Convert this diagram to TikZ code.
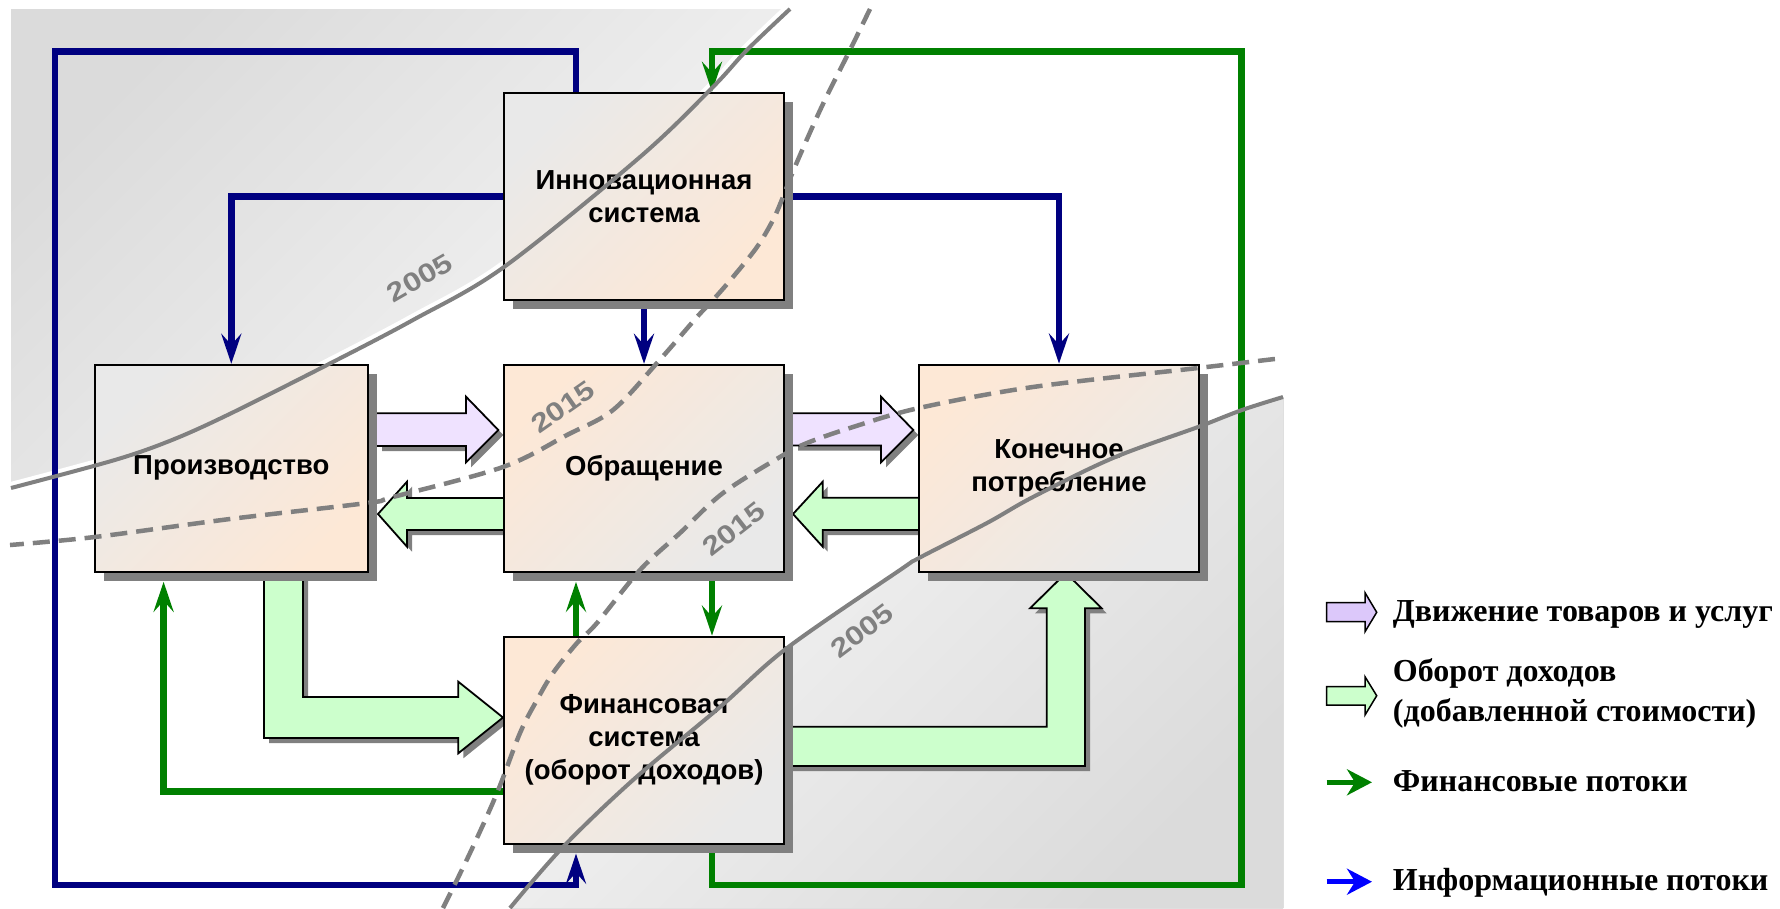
\documentclass[tikz,border=0pt]{standalone}
\usepackage{fontspec}
\setmainfont{Liberation Sans}
\newfontfamily\boxfont{Liberation Sans}
\newfontfamily\legfont{Liberation Serif}
\usetikzlibrary{arrows.meta,shadows}
\definecolor{navyc}{HTML}{000080}
\definecolor{greenc}{HTML}{008000}
\definecolor{shadowc}{HTML}{808080}
\definecolor{curvec}{HTML}{808080}
\definecolor{boxpeach}{HTML}{FDE8D6}
\definecolor{boxgray}{HTML}{E9E9E9}
\definecolor{fatpurple}{HTML}{EFE2FF}
\definecolor{fatgreen}{HTML}{CCFFCC}
\definecolor{legpurple}{HTML}{DCC8FA}
\definecolor{bgdark}{HTML}{DBDBDB}
\definecolor{bglight}{HTML}{F7F7F7}
\definecolor{infoblue}{HTML}{0000FF}
\pgfdeclarelayer{bg}
\pgfdeclarelayer{conn}
\pgfdeclarelayer{over}
\pgfsetlayers{bg,conn,main,over}
\tikzset{
  tipa/.style={-{Stealth[length=30pt,width=20pt,inset=11pt]}},
  infoflow/.style={draw=navyc, line width=6.5pt, tipa},
  finflow/.style={draw=greenc, line width=6.5pt, tipa},
  boxbase/.style={draw=black, line width=2pt, inner sep=0pt, align=center,
    minimum width=280pt, minimum height=207pt,
    font=\boxfont\bfseries\fontsize{27.5}{33}\selectfont,
    drop shadow={shadow xshift=9pt, shadow yshift=-9pt, fill=shadowc, opacity=1}},
  boxA/.style={boxbase, top color=boxgray, bottom color=boxpeach, shading angle=45},
  boxB/.style={boxbase, top color=boxpeach, bottom color=boxgray, shading angle=45},
  fatshadow/.style={drop shadow={shadow xshift=5pt, shadow yshift=-5pt, fill=shadowc, opacity=1}},
  fatline/.style={draw=black, line width=1.8pt, line join=miter},
  solidcurve/.style={draw=curvec, line width=4pt},
  dashcurve/.style={draw=curvec, line width=4.5pt, dash pattern=on 17pt off 9pt},
  yearlab/.style={text=curvec, inner sep=0pt, font=\boxfont\bfseries\fontsize{26.5}{26.5}\selectfont},
  legtext/.style={anchor=base west, inner sep=0pt, align=left,
    font=\legfont\bfseries\fontsize{32}{40}\selectfont},
  legarrow/.style={draw=black, line width=1.5pt, line join=miter},
}
\begin{document}
\begin{tikzpicture}[x=1pt,y=-1pt]
\useasboundingbox (0,0) rectangle (1780,908);

% ---------- background regions ----------
\begin{pgfonlayer}{bg}
\fill[white] (0,0) rectangle (1780,908);
\fill[top color=bgdark, bottom color=bglight, shading angle=45]
  (11,9) -- plot[smooth, tension=0.55] coordinates {(790,9) (747,50) (712,88) (640,157) (504,267) (413,320) (327,365) (229.6,414) (172,440) (114.8,460) (11,488)} -- cycle;
\draw[white, line width=12pt] plot[smooth, tension=0.55] coordinates {(790,9) (747,50) (712,88) (640,157) (504,267) (413,320) (327,365) (229.6,414) (172,440) (114.8,460) (11,488)};
\fill[top color=bglight, bottom color=bgdark, shading angle=45]
  (1283,908) -- plot[smooth, tension=0.55] coordinates {(510,908) (563,847) (633,780) (720,707) (787,648) (900,570) (919,558) (987,523) (1033,497) (1113,458) (1198,427) (1242,410) (1283,397)} -- cycle;
\end{pgfonlayer}

% ---------- boxes ----------
\node[boxA] (inn) at (644,196.3) {Инновационная\\система};
\node[boxA, minimum width=273.3pt] (prod) at (231.3,468.3) {Производство};
\node[boxB] (obr) at (644,468.3) {Обращение};
\node[boxB, minimum width=279.2pt] (kon) at (1059,468.1) {Конечное\\потребление};
\node[boxB] (fin) at (644,740.1) {Финансовая\\система\\(оборот доходов)};

\coordinate (blt) at (55,51.7);
\coordinate (blb) at (576,885);
\coordinate (gl1) at (712,51.7);
\coordinate (gl2) at (1241.7,885);
\coordinate (gp) at (163.6,791.7);

% ---------- connectors ----------
\begin{pgfonlayer}{conn}
\draw[infoflow, shorten >=9pt] (inn.north -| blb) |- (blt) |- (blb) -- (fin.south -| blb);
\draw[infoflow] (inn.west) -| (prod.north);
\draw[infoflow] (inn.east) -| (kon.north);
\draw[infoflow] (inn.south) -- (obr.north);
\draw[finflow] (fin.south -| gl1) |- (gl2) |- (gl1) -- (inn.north -| gl1);
\draw[finflow] (obr.south -| gl1) -- (fin.north -| gl1);
\draw[finflow, shorten >=9pt] (fin.north -| blb) -- (obr.south -| blb);
\draw[finflow, shorten >=9pt] (fin.west |- gp) -| (prod.south -| gp);

% fat arrows: goods (purple)
\fill[fatpurple, fatshadow] (377,413.3) -- (466,413.3) -- (466,396.7) -- (498.3,430) -- (466,462.3) -- (466,446) -- (377,446) -- cycle;
\draw[fatline] (377,413.3) -- (466,413.3) -- (466,396.7) -- (498.3,430) -- (466,462.3) -- (466,446) -- (377,446);
\fill[fatpurple, fatshadow] (793,413.3) -- (881,413.3) -- (881,396.7) -- (913.3,430) -- (881,462.3) -- (881,445.5) -- (793,445.5) -- cycle;
\draw[fatline] (793,413.3) -- (881,413.3) -- (881,396.7) -- (913.3,430) -- (881,462.3) -- (881,445.5) -- (793,445.5);
% fat arrows: income (green)
\fill[fatgreen, fatshadow] (504,498) -- (407,498) -- (407,481.7) -- (378,514) -- (407,546.7) -- (407,530) -- (504,530) -- cycle;
\draw[fatline] (504,498) -- (407,498) -- (407,481.7) -- (378,514) -- (407,546.7) -- (407,530) -- (504,530);
\fill[fatgreen, fatshadow] (919.3,497.7) -- (822.7,497.7) -- (822.7,481.7) -- (793,514) -- (822.7,546.7) -- (822.7,530) -- (919.3,530) -- cycle;
\draw[fatline] (919.3,497.7) -- (822.7,497.7) -- (822.7,481.7) -- (793,514) -- (822.7,546.7) -- (822.7,530) -- (919.3,530);
\fill[fatgreen, fatshadow] (264,575) -- (264,738) -- (458.3,738) -- (458.3,753.3) -- (503,717.5) -- (458.3,681.7) -- (458.3,697) -- (303,697) -- (303,575) -- cycle;
\draw[fatline] (264,580) -- (264,738) -- (458.3,738) -- (458.3,753.3) -- (503,717.5) -- (458.3,681.7) -- (458.3,697) -- (303,697) -- (303,580);
\fill[fatgreen, fatshadow] (783.5,726.7) -- (1046.7,726.7) -- (1046.7,608.3) -- (1030,608.3) -- (1065.9,573) -- (1101.7,608.3) -- (1085,608.3) -- (1085,766) -- (783.5,766) -- cycle;
\draw[fatline] (783.5,726.7) -- (1046.7,726.7) -- (1046.7,608.3) -- (1030,608.3) -- (1065.9,573) -- (1101.7,608.3) -- (1085,608.3) -- (1085,766) -- (783.5,766);
\end{pgfonlayer}

% ---------- time curves ----------
\begin{pgfonlayer}{over}
\draw[solidcurve] plot[smooth, tension=0.55] coordinates {(790,9) (747,50) (712,88) (640,157) (504,267) (413,320) (327,365) (229.6,414) (172,440) (114.8,460) (11,488)};
\draw[solidcurve] plot[smooth, tension=0.55] coordinates {(510,908) (563,847) (633,780) (720,707) (787,648) (900,570) (919,558) (987,523) (1033,497) (1113,458) (1198,427) (1242,410) (1283,397)};
\draw[dashcurve] plot[smooth, tension=0.55] coordinates {(870,9) (850,50) (821.7,106.7) (795,166.7) (783,197) (773,220) (757,247) (733,277) (713,300) (697,317) (657,363) (613,410) (567,435) (503,467) (393,497) (367,503) (230,519) (94.7,537) (10,545)};
\draw[dashcurve] plot[smooth, tension=0.55] coordinates {(443,908) (470,853) (497,793) (520,733) (537,700) (553,673) (577,643) (597,623) (640,570) (680,533) (723,493) (780,457) (807,443) (853,427) (919,408) (1033,387) (1198,368) (1283,358)};
\node[yearlab, rotate=30] (y1) at (420,278) {\scalebox{1.2}[1]{2005}};
\node[yearlab, rotate=35] (y2) at (563,407) {\scalebox{1.2}[1]{2015}};
\node[yearlab, rotate=38] (y3) at (734,529) {\scalebox{1.2}[1]{2015}};
\node[yearlab, rotate=37] (y4) at (862,631) {\scalebox{1.2}[1]{2005}};
\end{pgfonlayer}

% ---------- legend ----------
\filldraw[legarrow, fill=legpurple] (1326.7,602.7) -- (1365,602.7) -- (1365,592.7) -- (1376.7,612.3) -- (1365,631.7) -- (1365,621.7) -- (1326.7,621.7) -- cycle;
\filldraw[legarrow, fill=fatgreen] (1326.7,686.7) -- (1365,686.7) -- (1365,676.7) -- (1376.7,695.7) -- (1365,715) -- (1365,705) -- (1326.7,705) -- cycle;
\coordinate (lg1) at (1326.7,782.3);
\coordinate (lg2) at (1372,782.3);
\coordinate (lb1) at (1326.7,881.7);
\coordinate (lb2) at (1372,881.7);
\draw[greenc, line width=5pt, -{Stealth[length=25pt,width=26pt,inset=8pt]}] (lg1) -- (lg2);
\draw[infoblue, line width=5pt, -{Stealth[length=25pt,width=26pt,inset=8pt]}] (lb1) -- (lb2);
\node[legtext] (l1) at (1392.7,621.7) {Движение товаров и услуг};
\node[legtext] (l2) at (1392.7,721.7) {Оборот доходов\\(добавленной стоимости)};
\node[legtext] (l3) at (1392.7,791.7) {Финансовые потоки};
\node[legtext] (l4) at (1392.7,890.7) {Информационные потоки};
\end{tikzpicture}
\end{document}
